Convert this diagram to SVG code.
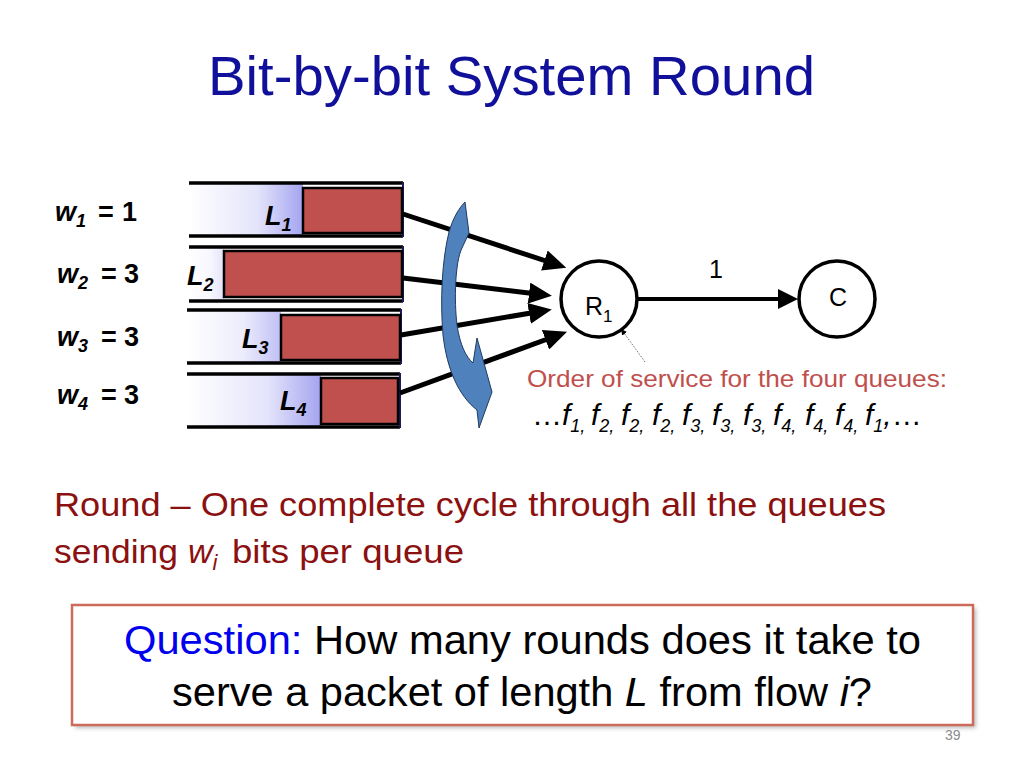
<svg xmlns="http://www.w3.org/2000/svg" width="1024" height="768" viewBox="0 0 1024 768">
<style>
text{font-family:"Liberation Sans",Arial,sans-serif}
.w{font-size:27px;font-weight:bold;fill:#000}
.it{font-style:italic}
.sub{font-size:18px}
.rail{stroke:#000;stroke-width:3.5}
.edge{stroke:#1a1a60;stroke-width:2}
.pkt{fill:#c0504d;stroke:#000;stroke-width:2.5}
.arr{stroke:#000;stroke-width:5;fill:none}
.node{fill:#fff;stroke:#000;stroke-width:3.5}
.lbl{font-size:25px;fill:#000}
</style>
<defs>
<linearGradient id="qg" x1="0" y1="0" x2="1" y2="0">
<stop offset="0" stop-color="#ffffff"/>
<stop offset="0.6" stop-color="#e4e4fb"/>
<stop offset="1" stop-color="#a4a4f0"/>
</linearGradient>
<marker id="ah" markerUnits="userSpaceOnUse" markerWidth="23" markerHeight="21" refX="8" refY="10.5" orient="auto">
<path d="M0,0 L23,10.5 L0,21 Z" fill="#000"/>
</marker>
<marker id="ah2" markerUnits="userSpaceOnUse" markerWidth="20" markerHeight="20" refX="6" refY="10" orient="auto">
<path d="M0,0 L20,10 L0,20 Z" fill="#000"/>
</marker>
<marker id="ahs" markerUnits="userSpaceOnUse" markerWidth="6" markerHeight="6" refX="1" refY="3" orient="auto">
<path d="M0,0 L6,3 L0,6 Z" fill="#000"/>
</marker>
<filter id="sh" x="-5%" y="-20%" width="110%" height="140%">
<feGaussianBlur stdDeviation="2"/>
</filter>
</defs>
<rect width="1024" height="768" fill="#fff"/>

<text x="208" y="95" font-size="56" fill="#10109a" textLength="607" lengthAdjust="spacingAndGlyphs">Bit-by-bit System Round</text>

<g id="weights">
<text class="w" y="221"><tspan x="55" class="it">w</tspan><tspan class="it sub" y="227">1</tspan><tspan x="98" y="221">=</tspan><tspan x="122">1</tspan></text>
<text class="w" y="283"><tspan x="57" class="it">w</tspan><tspan class="it sub" y="289">2</tspan><tspan x="101" y="283">=</tspan><tspan x="124">3</tspan></text>
<text class="w" y="346"><tspan x="57" class="it">w</tspan><tspan class="it sub" y="352">3</tspan><tspan x="101" y="346">=</tspan><tspan x="124">3</tspan></text>
<text class="w" y="404"><tspan x="57" class="it">w</tspan><tspan class="it sub" y="410">4</tspan><tspan x="101" y="404">=</tspan><tspan x="124">3</tspan></text>
</g>

<g id="queue1">
<rect x="189" y="183" width="114" height="53" fill="url(#qg)"/>
<line class="rail" x1="189" y1="183" x2="403" y2="183"/>
<line class="rail" x1="189" y1="236" x2="403" y2="236"/>
<line class="edge" x1="403" y1="182" x2="403" y2="237"/>
<rect class="pkt" x="303" y="188" width="99" height="45"/>
<text class="w it" x="265" y="225">L<tspan class="sub" y="231">1</tspan></text>
</g>
<g id="queue2">
<rect x="189" y="247" width="35" height="54" fill="url(#qg)" opacity="0.3"/>
<line class="rail" x1="189" y1="247" x2="403" y2="247"/>
<line class="rail" x1="189" y1="301" x2="403" y2="301"/>
<line class="edge" x1="403" y1="246" x2="403" y2="302"/>
<rect class="pkt" x="224" y="251" width="178" height="46"/>
<text class="w it" x="187" y="285">L<tspan class="sub" y="291">2</tspan></text>
</g>
<g id="queue3">
<rect x="187" y="310" width="94" height="53" fill="url(#qg)" opacity="0.7"/>
<line class="rail" x1="187" y1="310" x2="401" y2="310"/>
<line class="rail" x1="187" y1="363" x2="401" y2="363"/>
<line class="edge" x1="401" y1="309" x2="401" y2="364"/>
<rect class="pkt" x="281" y="315" width="119" height="45"/>
<text class="w it" x="242" y="348">L<tspan class="sub" y="354">3</tspan></text>
</g>
<g id="queue4">
<rect x="187" y="374" width="134" height="53" fill="url(#qg)"/>
<line class="rail" x1="187" y1="374" x2="400" y2="374"/>
<line class="rail" x1="187" y1="427" x2="400" y2="427"/>
<line class="edge" x1="400" y1="373" x2="400" y2="428"/>
<rect class="pkt" x="321" y="378" width="77" height="46"/>
<text class="w it" x="280" y="410">L<tspan class="sub" y="416">4</tspan></text>
</g>

<g id="connectors">
<line class="arr" x1="403" y1="214" x2="552" y2="263" marker-end="url(#ah)"/>
<line class="arr" x1="403" y1="278" x2="537" y2="294" marker-end="url(#ah)"/>
<line class="arr" x1="401" y1="335" x2="537" y2="312" marker-end="url(#ah)"/>
<line class="arr" x1="400" y1="393" x2="553" y2="337" marker-end="url(#ah)"/>
<line x1="637" y1="299" x2="784" y2="299" stroke="#000" stroke-width="4" marker-end="url(#ah2)"/>
<line x1="645" y1="362" x2="624" y2="333" stroke="#707070" stroke-width="1" stroke-dasharray="1.5 1.5" marker-end="url(#ahs)"/>
</g>

<g id="rotation">
<path d="M465,202 L469,233 L462,248 C455,262 454,300 457,325 C460,345 466,357 473,363 L477,338 L492,392 L479,428 L477,410 C459,396 447,370 443,335 C440,300 442,260 449,232 C453,218 459,208 465,202 Z" fill="#4f81bd" stroke="#1f3b5f" stroke-width="1"/>
</g>

<g id="R1">
<circle class="node" cx="599" cy="299" r="38"/>
<text class="lbl" x="585" y="315">R<tspan font-size="17" y="322">1</tspan></text>
</g>
<g id="C">
<circle class="node" cx="837" cy="299" r="38"/>
<text class="lbl" x="838" y="306" text-anchor="middle">C</text>
</g>
<text class="lbl" x="716" y="278" text-anchor="middle">1</text>

<text x="527" y="387" font-size="24" fill="#c0504d" textLength="420" lengthAdjust="spacingAndGlyphs">Order of service for the four queues:</text>
<text font-size="30" fill="#000" class="it" y="425"><tspan x="532" font-style="normal">…</tspan><tspan x="562">f</tspan><tspan class="sub" y="432">1,</tspan><tspan x="591" y="425">f</tspan><tspan class="sub" y="432">2,</tspan><tspan x="621" y="425">f</tspan><tspan class="sub" y="432">2,</tspan><tspan x="652" y="425">f</tspan><tspan class="sub" y="432">2,</tspan><tspan x="682" y="425">f</tspan><tspan class="sub" y="432">3,</tspan><tspan x="712" y="425">f</tspan><tspan class="sub" y="432">3,</tspan><tspan x="743" y="425">f</tspan><tspan class="sub" y="432">3,</tspan><tspan x="773" y="425">f</tspan><tspan class="sub" y="432">4,</tspan><tspan x="805" y="425">f</tspan><tspan class="sub" y="432">4,</tspan><tspan x="835" y="425">f</tspan><tspan class="sub" y="432">4,</tspan><tspan x="865" y="425">f</tspan><tspan class="sub" y="432">1</tspan><tspan y="425">,</tspan><tspan font-style="normal">…</tspan></text>

<text x="54" y="516" font-size="34" fill="#8b1010" textLength="832" lengthAdjust="spacingAndGlyphs">Round – One complete cycle through all the queues</text>
<text font-size="34" fill="#8b1010" y="563"><tspan x="54" textLength="124" lengthAdjust="spacingAndGlyphs">sending</tspan><tspan x="188" class="it">w</tspan><tspan class="it" font-size="22" y="570">i</tspan><tspan x="232" y="563" textLength="232" lengthAdjust="spacingAndGlyphs">bits per queue</tspan></text>

<g id="question">
<rect x="75" y="608" width="901" height="120" fill="#bbb" filter="url(#sh)"/>
<rect x="72" y="605" width="901" height="120" fill="#fff" stroke="#cc6b5a" stroke-width="2.5"/>
<text x="124" y="654" font-size="40" fill="#000" textLength="797" lengthAdjust="spacingAndGlyphs"><tspan fill="#0000ee">Question:</tspan> How many rounds does it take to</text>
<text x="172" y="706" font-size="40" fill="#000" textLength="700" lengthAdjust="spacingAndGlyphs">serve a packet of length <tspan class="it">L</tspan> from flow <tspan class="it">i</tspan>?</text>
</g>
<text x="945" y="740" font-size="14" fill="#8c8c8c">39</text>
</svg>
